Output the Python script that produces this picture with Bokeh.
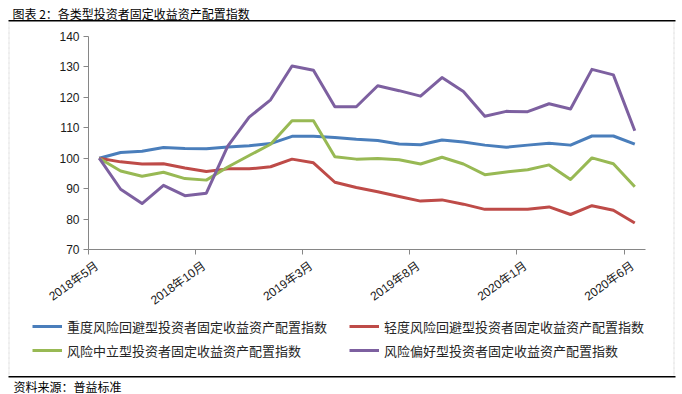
from bokeh.plotting import figure
from bokeh.models import (Range1d, FixedTicker, Legend, LegendItem, Label,
                          BoxAnnotation, ColumnDataSource, LinearAxis)
from bokeh.embed import file_html
from bokeh.resources import INLINE

# ---------------- data ----------------
months = ["2018年5月", "2018年6月", "2018年7月", "2018年8月", "2018年9月", "2018年10月",
          "2018年11月", "2018年12月", "2019年1月", "2019年2月", "2019年3月", "2019年4月",
          "2019年5月", "2019年6月", "2019年7月", "2019年8月", "2019年9月", "2019年10月",
          "2019年11月", "2019年12月", "2020年1月", "2020年2月", "2020年3月", "2020年4月",
          "2020年5月", "2020年6月"]
tick_index = [0, 5, 10, 15, 20, 25]
tick_labels = ["2018年5月", "2018年10月", "2019年3月", "2019年8月", "2020年1月", "2020年6月"]
y_ticks = [70, 80, 90, 100, 110, 120, 130, 140]

heavy_avoid = [100.0, 101.9, 102.3, 103.5, 103.2, 103.1, 103.7, 104.1, 104.8, 107.2,
               107.2, 106.8, 106.2, 105.8, 104.7, 104.4, 106.0, 105.3, 104.3, 103.6,
               104.3, 104.9, 104.3, 107.3, 107.3, 104.6]
light_avoid = [100.0, 98.8, 98.1, 98.2, 96.8, 95.6, 96.5, 96.5, 97.2, 99.7,
               98.5, 92.1, 90.4, 89.0, 87.4, 85.9, 86.3, 84.9, 83.2, 83.2,
               83.2, 84.0, 81.5, 84.4, 82.9, 78.7]
neutral = [100.0, 95.8, 94.1, 95.4, 93.3, 92.8, 97.1, 100.9, 104.6, 112.3,
           112.3, 100.5, 99.7, 99.9, 99.5, 98.1, 100.3, 98.1, 94.6, 95.5,
           96.2, 97.8, 93.0, 100.1, 98.2, 90.6]
prefer = [100.0, 89.8, 85.1, 91.1, 87.7, 88.5, 104.0, 113.5, 119.2, 130.3,
          128.9, 116.9, 116.9, 123.8, 122.2, 120.4, 126.5, 121.9, 113.8, 115.4,
          115.3, 117.9, 116.2, 129.2, 127.4, 109.0]

series_names = ["重度风险回避型投资者固定收益资产配置指数",
                "轻度风险回避型投资者固定收益资产配置指数",
                "风险中立型投资者固定收益资产配置指数",
                "风险偏好型投资者固定收益资产配置指数"]
series_values = [heavy_avoid, light_avoid, neutral, prefer]
colors = ["#4A7EBB", "#BE4B48", "#98B954", "#7D60A0"]

title_text = "图表 2：各类型投资者固定收益资产配置指数"
source_text = "资料来源：普益标准"

# ---------------- layout constants (pixels) ----------------
W, H = 682, 394
PL, PR, PT, PB = 88, 645, 36, 249      # plot area edges on the canvas
LABEL_SHIFT = 0.4                      # x-label anchor offset (in categories)
n = len(months)
ymin, ymax = y_ticks[0], y_ticks[-1]
sx = (PR - PL) / n
sy = (PB - PT) / (ymax - ymin)
x_range = Range1d(-PL / sx, (W - PL) / sx)
y_range = Range1d(ymin - (H - PB) / sy, ymax + PT / sy)

p = figure(width=W, height=H, output_backend="svg", toolbar_location=None,
           title=None, x_range=x_range, y_range=y_range,
           x_axis_location=None, y_axis_location=None,
           min_border=0, min_border_left=0, min_border_right=0,
           min_border_top=0, min_border_bottom=0)
p.outline_line_color = None
p.xgrid.visible = False
p.ygrid.visible = False
p.background_fill_color = "white"
p.border_fill_color = "white"

xs = [i + 0.5 for i in range(n)]
renderers = []
for name, vals, c in zip(series_names, series_values, colors):
    src = ColumnDataSource(dict(x=xs, y=vals, month=months))
    r = p.line("x", "y", source=src, line_color=c, line_width=3, line_join="round")
    renderers.append(r)

axis_color = "#868686"
tick_font = "Liberation Sans, Arial, Noto Sans CJK SC"

# x axis: line + tick marks
xaxis = LinearAxis(fixed_location=ymin, bounds=(0, n))
xaxis.ticker = FixedTicker(ticks=tick_index)
xaxis.major_label_overrides = {i: "" for i in tick_index}
xaxis.major_tick_in = 0
xaxis.major_tick_out = 5
xaxis.axis_line_color = axis_color
xaxis.major_tick_line_color = axis_color
xaxis.minor_tick_line_color = None
p.add_layout(xaxis, "below")

# x axis labels (rotated, anchored slightly right of each tick)
label_ticks = [i + LABEL_SHIFT for i in tick_index]
xlab = LinearAxis(fixed_location=ymin, bounds=(0, n))
xlab.ticker = FixedTicker(ticks=label_ticks)
xlab.major_label_overrides = {t: s for t, s in zip(label_ticks, tick_labels)}
xlab.major_label_orientation = 0.62
xlab.major_tick_in = 0
xlab.major_tick_out = 5
xlab.major_label_standoff = 10
xlab.axis_line_color = None
xlab.major_tick_line_color = None
xlab.minor_tick_line_color = None
xlab.major_label_text_font = tick_font
xlab.major_label_text_font_size = "12px"
xlab.major_label_text_color = "#1a1a1a"
p.add_layout(xlab, "below")

yaxis = LinearAxis(fixed_location=0, bounds=(ymin, ymax))
yaxis.ticker = FixedTicker(ticks=y_ticks)
yaxis.major_tick_in = 0
yaxis.major_tick_out = 5
yaxis.major_label_standoff = 4
yaxis.minor_tick_line_color = None
yaxis.axis_line_color = axis_color
yaxis.major_tick_line_color = axis_color
yaxis.major_label_text_font = tick_font
yaxis.major_label_text_font_size = "12px"
yaxis.major_label_text_color = "#1a1a1a"
p.add_layout(yaxis, "left")

# ---------------- legend ----------------
items = [LegendItem(label=nm, renderers=[r]) for nm, r in zip(series_names, renderers)]
legend = Legend(items=items, orientation="horizontal", ncols=2,
                location=(32, H - 360), padding=0, margin=0, spacing=4,
                glyph_width=30, glyph_height=20, label_height=20,
                label_width=278, label_standoff=5,
                label_text_font="Noto Sans CJK SC", label_text_font_size="13px",
                label_text_color="#262626",
                border_line_alpha=0, background_fill_alpha=0)
p.add_layout(legend, "center")

# ---------------- decorations (canvas pixels, y measured from bottom) ----------------
def box(left, right, top_py, bottom_py, **kw):
    return BoxAnnotation(left=left, right=right, top=H - top_py, bottom=H - bottom_py,
                         left_units="screen", right_units="screen",
                         top_units="screen", bottom_units="screen", **kw)

p.add_layout(Label(x=12, y=H - 13, x_units="screen", y_units="screen", text=title_text,
                   text_font="Noto Sans CJK SC", text_font_size="12px",
                   text_color="black", text_baseline="middle"))
p.add_layout(box(8, 675, 19.5, 21, fill_color="black", fill_alpha=1, line_color=None))
p.add_layout(box(8, 675, 375.5, 377, fill_color="black", fill_alpha=1, line_color=None))
for xv in (8.5, 673.5):
    p.add_layout(box(xv, xv, 22, 375, fill_alpha=0, line_color="#b0b0b0",
                     line_width=1, line_dash="3 2"))
p.add_layout(Label(x=13, y=H - 386, x_units="screen", y_units="screen", text=source_text,
                   text_font="Noto Sans CJK SC", text_font_size="12px",
                   text_color="black", text_baseline="middle"))

open("out.html", "w").write(file_html(p, INLINE))
